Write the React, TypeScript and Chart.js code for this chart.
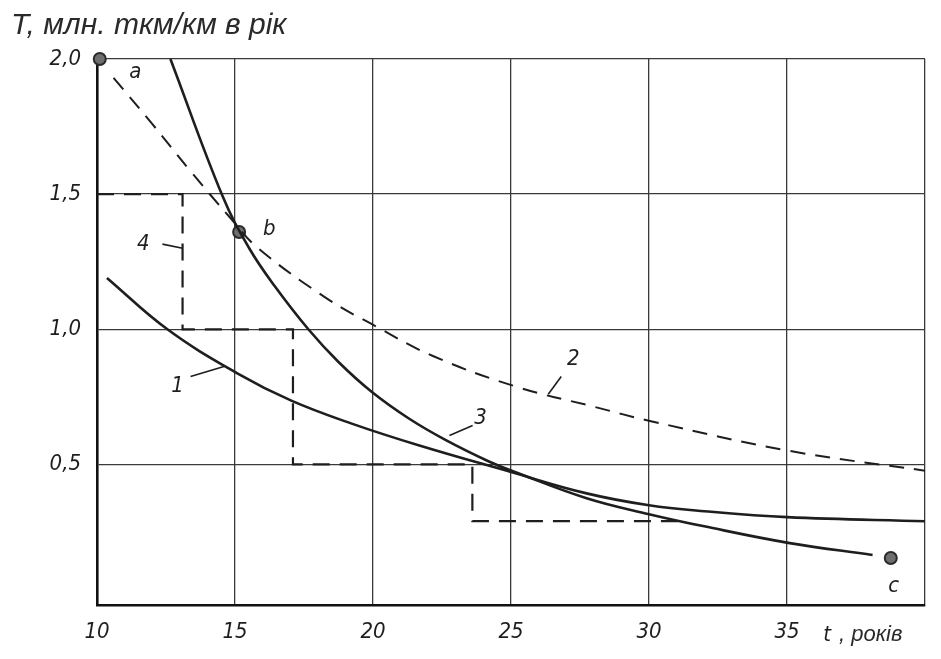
import { useEffect, useRef } from 'react';
import { Chart, registerables } from 'chart.js';

Chart.register(...registerables);

// ---- data ----
const xTicks = [10, 15, 20, 25, 30, 35, 40];
const yTicks = [0.5, 1.0, 1.5, 2.0];

const curve1X = [10.36, 12.55, 15.1, 17.04, 19.23, 21.68, 25, 27.74, 30, 32, 35, 40];
const curve1Y = [1.19, 1.0, 0.836, 0.736, 0.651, 0.57, 0.472, 0.393, 0.349, 0.327, 0.305, 0.29];

const curve2X = [10.6, 12, 13.39, 14.85, 15.84, 18.39, 20.07, 22.15, 25.18, 27.99, 30.07, 35.1, 40];
const curve2Y = [1.93, 1.76, 1.585, 1.41, 1.3, 1.11, 1.013, 0.902, 0.788, 0.714, 0.66, 0.55, 0.477];

const curve3X = [12.66, 14.56, 15.52, 16.43, 17.65, 18.75, 19.96, 21.3, 22.64, 24.22, 25.07, 27.74, 30, 32, 35.1, 38.1];
const curve3Y = [2.0, 1.49, 1.299, 1.161, 1.001, 0.879, 0.768, 0.67, 0.59, 0.51, 0.475, 0.375, 0.316, 0.271, 0.209, 0.165];

const curve4X = [10, 13.1, 13.1, 17.1, 17.1, 23.6, 23.6, 31.4];
const curve4Y = [1.5, 1.5, 1.0, 1.0, 0.5, 0.5, 0.29, 0.29];

const markerX = [10.1, 15.15, 38.76];
const markerY = [2.0, 1.36, 0.154];
const markerNames = ['a', 'b', 'c'];
const markerLabelX = [11.39, 16.24, 38.87];
const markerLabelY = [1.95, 1.37, 0.05];

const curveNames = ['1', '2', '3', '4'];
const curveLabelX = [12.92, 27.26, 23.9, 11.68];
const curveLabelY = [0.79, 0.89, 0.67, 1.315];
const leaderStartX = [13.39, 26.35, 22.77, 12.37];
const leaderStartY = [0.825, 0.76, 0.607, 1.315];
const leaderEndX = [14.6, 26.82, 23.61, 13.1];
const leaderEndY = [0.862, 0.825, 0.644, 1.3];

const titleText = 'T, млн. ткм/км в рік';
const xUnitSymbol = 't';
const xUnitText = ', років';

const CONDENSED = '"DejaVu Sans Condensed", "Liberation Sans Narrow", "DejaVu Sans", sans-serif';
const ARIAL = '"Liberation Sans", Arial, sans-serif';
const INK = '#1e1e1e';

const pts = (xs: number[], ys: number[]) => xs.map((x, i) => ({ x, y: ys[i] }));
const fmt = (v: number) => v.toFixed(1).replace('.', ',');

const textPlugin = {
  id: 'textPlugin',
  afterDraw(chart: any) {
    const { ctx, scales } = chart;
    const xs = scales.x;
    const ys = scales.y;
    ctx.save();
    ctx.fillStyle = '#2a2a2a';
    ctx.font = `italic 30px ${ARIAL}`;
    ctx.textAlign = 'left';
    ctx.textBaseline = 'alphabetic';
    ctx.fillText(titleText, 11, 34);

    ctx.fillStyle = INK;
    ctx.font = `italic 22px ${CONDENSED}`;
    ctx.textAlign = 'center';
    ctx.textBaseline = 'middle';
    markerNames.forEach((t, i) => {
      ctx.fillText(t, xs.getPixelForValue(markerLabelX[i]), ys.getPixelForValue(markerLabelY[i]));
    });
    curveNames.forEach((t, i) => {
      ctx.fillText(t, xs.getPixelForValue(curveLabelX[i]), ys.getPixelForValue(curveLabelY[i]));
    });

    // x unit
    const bottom = xs.top;
    const tx = xs.getPixelForValue(36.45);
    ctx.font = `italic 22px ${CONDENSED}`;
    ctx.fillText(xUnitSymbol, tx, bottom + 30);
    ctx.font = `italic 22px ${ARIAL}`;
    ctx.textAlign = 'left';
    ctx.fillStyle = '#2a2a2a';
    ctx.fillText(xUnitText, tx + 12, bottom + 30);
    ctx.restore();
  },
};

export default function App() {
  const ref = useRef<HTMLCanvasElement | null>(null);

  useEffect(() => {
    if (!ref.current) return;
    const solid = (data: any) => ({
      type: 'line',
      data,
      borderColor: INK,
      borderWidth: 2.6,
      pointRadius: 0,
      tension: 0.4,
      fill: false,
    });
    const leaders = curveNames.map((_, i) => ({
      type: 'line',
      data: [
        { x: leaderStartX[i], y: leaderStartY[i] },
        { x: leaderEndX[i], y: leaderEndY[i] },
      ],
      borderColor: INK,
      borderWidth: 1.6,
      pointRadius: 0,
      tension: 0,
      fill: false,
    }));
    const chart = new Chart(ref.current, {
      type: 'line',
      data: {
        datasets: [
          solid(pts(curve1X, curve1Y)),
          {
            ...solid(pts(curve2X, curve2Y)),
            borderWidth: 2,
            borderDash: [15, 10],
          },
          solid(pts(curve3X, curve3Y)),
          {
            type: 'line',
            data: pts(curve4X, curve4Y),
            borderColor: INK,
            borderWidth: 2.2,
            borderDash: [17, 10],
            pointRadius: 0,
            tension: 0,
            fill: false,
          },
          ...leaders,
          {
            type: 'scatter',
            data: pts(markerX, markerY),
            backgroundColor: '#6e6e6e',
            borderColor: '#2a2a2a',
            borderWidth: 2,
            pointRadius: 6,
            clip: false,
          },
        ] as any,
      },
      options: {
        animation: false,
        responsive: true,
        maintainAspectRatio: false,
        layout: { padding: { top: 59, right: 16, left: 0, bottom: 0 } },
        plugins: { legend: { display: false }, tooltip: { enabled: false }, title: { display: false } },
        scales: {
          x: {
            type: 'linear',
            min: 10,
            max: 40,
            afterBuildTicks: (s: any) => {
              s.ticks = xTicks.map((v) => ({ value: v }));
            },
            afterFit: (s: any) => {
              s.height = 54;
            },
            ticks: {
              callback: (v: any) => (v === 40 ? '' : String(v)),
              font: { family: CONDENSED, size: 22, style: 'italic' },
              color: INK,
              padding: 14,
              maxRotation: 0,
              autoSkip: false,
            },
            grid: { color: '#3a3a3a', lineWidth: 1.3, drawTicks: false },
            border: { color: '#111', width: 2.6 },
          },
          y: {
            type: 'linear',
            min: -0.02,
            max: 2.0,
            afterBuildTicks: (s: any) => {
              s.ticks = yTicks.map((v) => ({ value: v }));
            },
            afterFit: (s: any) => {
              s.width = 97;
            },
            ticks: {
              callback: (v: any) => fmt(Number(v)),
              font: { family: CONDENSED, size: 22, style: 'italic' },
              color: INK,
              padding: 16,
            },
            grid: { color: '#3a3a3a', lineWidth: 1.3, drawTicks: false },
            border: { color: '#111', width: 2.6 },
          },
        },
      } as any,
      plugins: [textPlugin],
    });
    return () => chart.destroy();
  }, []);

  return (
    <div style={{ position: 'fixed', left: 0, top: 0, width: 941, height: 659, background: '#fff' }}>
      <canvas ref={ref} />
    </div>
  );
}
